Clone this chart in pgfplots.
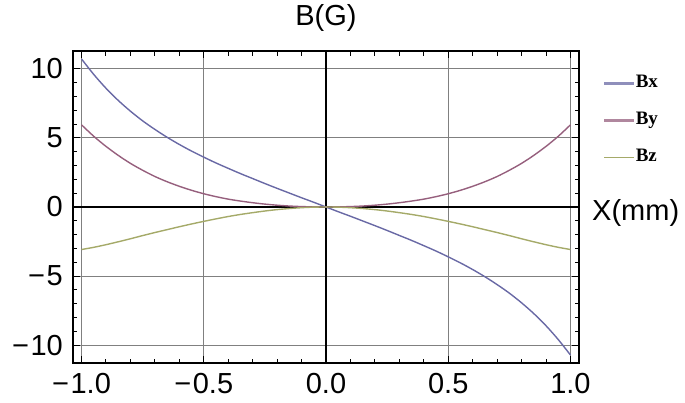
\documentclass[border=0pt]{standalone}
\usepackage{fontspec}
\setmainfont{Liberation Sans}
\newfontfamily\legfont{Liberation Serif}
\usepackage{pgfplots}
\usepackage{pgfplotstable}
\pgfplotsset{compat=1.18}

\definecolor{cbx}{RGB}{105,105,165}
\definecolor{cby}{RGB}{150,95,125}
\definecolor{cbz}{RGB}{165,170,105}

\pgfplotstableread{
x bx by bz
-1.00 10.72 5.95 -3.08
-0.95 9.60 5.12 -2.92
-0.90 8.60 4.39 -2.73
-0.85 7.72 3.74 -2.52
-0.80 6.94 3.16 -2.30
-0.75 6.24 2.66 -2.07
-0.70 5.62 2.21 -1.85
-0.65 5.05 1.83 -1.64
-0.60 4.53 1.50 -1.43
-0.55 4.05 1.21 -1.23
-0.50 3.61 0.96 -1.04
-0.45 3.19 0.75 -0.86
-0.40 2.80 0.57 -0.69
-0.35 2.42 0.43 -0.54
-0.30 2.06 0.31 -0.41
-0.25 1.70 0.21 -0.29
-0.20 1.35 0.13 -0.19
-0.15 1.01 0.07 -0.11
-0.10 0.67 0.03 -0.05
-0.05 0.34 0.01 -0.01
0.00 0.00 0.00 0.00
0.05 -0.34 0.01 -0.01
0.10 -0.67 0.03 -0.05
0.15 -1.01 0.07 -0.11
0.20 -1.35 0.13 -0.19
0.25 -1.70 0.21 -0.29
0.30 -2.06 0.31 -0.41
0.35 -2.42 0.43 -0.54
0.40 -2.80 0.57 -0.69
0.45 -3.19 0.75 -0.86
0.50 -3.61 0.96 -1.04
0.55 -4.05 1.21 -1.23
0.60 -4.53 1.50 -1.43
0.65 -5.05 1.83 -1.64
0.70 -5.62 2.21 -1.85
0.75 -6.24 2.66 -2.07
0.80 -6.94 3.16 -2.30
0.85 -7.72 3.74 -2.52
0.90 -8.60 4.39 -2.73
0.95 -9.60 5.12 -2.92
1.00 -10.72 5.95 -3.08
}\datatable

\begin{document}
\begin{tikzpicture}
\useasboundingbox (-73pt,-39pt) rectangle (612pt,363pt);
\begin{axis}[
  at={(0,0)}, anchor=south west,
  scale only axis,
  width=506pt, height=312pt,
  xmin=-1.035, xmax=1.035,
  ymin=-11.3, ymax=11.3,
  xtick={-1,-0.5,0,0.5,1},
  xticklabels={−\kern1.5pt1.0,−\kern1.5pt0.5,0.0,0.5,1.0},
  ytick={-10,-5,0,5,10},
  yticklabels={−\kern1.5pt10,−\kern1.5pt5,0,5,10},
  minor x tick num=4,
  minor y tick num=4,
  tick align=inside,
  major tick length=7pt,
  minor tick length=4.5pt,
  every tick/.style={black, line width=1pt},
  grid=major,
  major grid style={black!50, line width=1pt},
  axis line style={black, line width=1.4pt},
  xtick pos=both, ytick pos=both,
  xticklabel style={font=\fontsize{29}{31}\selectfont, inner sep=0pt, anchor=north, yshift=-10pt},
  yticklabel style={font=\fontsize{29}{31}\selectfont, inner sep=0pt, anchor=east, xshift=-10pt},
  extra x ticks={0}, extra x tick labels={},
  extra y ticks={0}, extra y tick labels={},
  extra tick style={major grid style={black, line width=1.4pt}},
  title={B(G)},
  title style={at={(axis description cs:0.5,1)}, anchor=base, yshift=19pt, inner sep=0pt, font=\fontsize{29}{31}\selectfont},
  xlabel={X(mm)},
  xlabel style={at={(axis description cs:1,0.5)}, anchor=west, xshift=13pt, yshift=-6pt, inner sep=0pt, font=\fontsize{29}{31}\selectfont},
  legend style={at={(axis description cs:1.047,0.923)}, anchor=north west, draw=none, fill=none, inner sep=0pt,
    font=\fontsize{19}{20}\legfont\bfseries, row sep=21pt,
    nodes={inner sep=0pt, text height=12pt, text depth=4pt, xshift=12pt}},
  legend cell align=left,
  legend image code/.code={\draw[#1] (0pt,0pt) -- (30pt,0pt);},
]
\addplot[cbx, line width=1.4pt, smooth, legend image post style={line width=2.8pt, cbx!75}] table[x=x, y=bx] {\datatable};
\addlegendentry{Bx}
\addplot[cby, line width=1.4pt, smooth, legend image post style={line width=2.8pt, cby!75}] table[x=x, y=by] {\datatable};
\addlegendentry{By}
\addplot[cbz, line width=1.4pt, smooth, legend image post style={line width=1.3pt}] table[x=x, y=bz] {\datatable};
\addlegendentry{Bz}
\end{axis}
\end{tikzpicture}
\end{document}
